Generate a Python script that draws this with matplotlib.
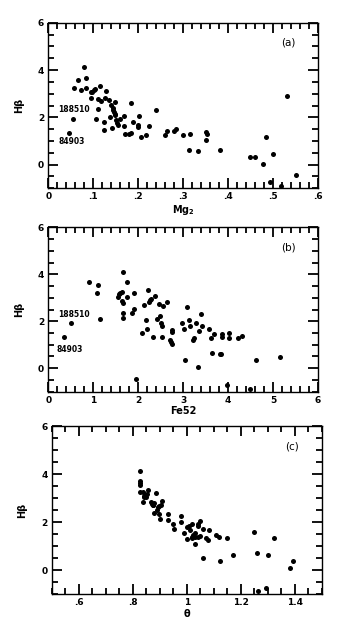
import matplotlib
matplotlib.use("Agg")
import matplotlib.pyplot as plt
from matplotlib.ticker import MultipleLocator, FixedLocator

# panel (a): Hbeta vs Mg2
mg2 = [0.079, 0.067, 0.084, 0.058, 0.073, 0.083, 0.098, 0.101, 0.103, 0.095, 0.096,
       0.114, 0.128, 0.110, 0.117, 0.127, 0.136, 0.148, 0.139, 0.144, 0.145, 0.147,
       0.148, 0.111, 0.138, 0.149, 0.150, 0.152, 0.159, 0.154, 0.106, 0.123, 0.125,
       0.142, 0.169, 0.184, 0.169, 0.170, 0.180, 0.185, 0.189, 0.199, 0.199, 0.202,
       0.207, 0.217, 0.223, 0.239, 0.259, 0.263, 0.279, 0.284, 0.300, 0.315, 0.313,
       0.332, 0.351, 0.352, 0.350, 0.381, 0.449, 0.460, 0.477, 0.484, 0.501, 0.493,
       0.530, 0.517, 0.550, 0.054, 0.047]
hb_a = [4.11, 3.57, 3.66, 3.23, 3.17, 3.24, 3.06, 3.17, 3.20, 2.83, 3.05,
        3.31, 3.10, 2.77, 2.69, 2.83, 2.74, 2.63, 2.52, 2.38, 2.29, 2.21,
        2.13, 2.36, 2.03, 2.08, 1.90, 1.78, 1.93, 1.68, 1.94, 1.82, 1.48,
        1.55, 2.07, 2.60, 1.62, 1.30, 1.30, 1.33, 1.79, 1.68, 1.58, 2.04,
        1.17, 1.24, 1.62, 2.32, 1.26, 1.41, 1.41, 1.50, 1.26, 1.29, 0.64,
        0.57, 1.38, 1.30, 1.05, 0.60, 0.32, 0.34, 0.04, 1.17, 0.45, -0.74,
        2.92, -0.90, -0.45, 1.92, 1.33]

# panel (b): Hbeta vs Fe52
fe52 = [0.91, 1.08, 1.11, 1.16, 0.50, 0.34, 1.66, 1.56, 1.58, 1.59, 1.64,
        1.65, 1.66, 1.67, 1.66, 1.76, 1.75, 1.91, 1.91, 1.87, 1.94, 2.08,
        2.14, 2.17, 2.20, 2.21, 2.24, 2.27, 2.28, 2.33, 2.38, 2.42, 2.47,
        2.49, 2.50, 2.54, 2.53, 2.56, 2.64, 2.70, 2.73, 2.76, 2.76, 2.76,
        2.97, 3.03, 3.04, 3.09, 3.13, 3.16, 3.21, 3.24, 3.29, 3.32, 3.35,
        3.39, 3.42, 3.58, 3.61, 3.65, 3.69, 3.81, 3.85, 3.87, 3.87, 3.97,
        4.01, 4.02, 4.21, 4.32, 4.48, 4.61, 5.15]
hb_b = [3.65, 3.22, 3.56, 2.08, 1.92, 1.35, 4.10, 3.05, 3.14, 3.19, 3.25,
        2.85, 2.79, 2.37, 2.12, 3.65, 3.05, 3.19, 2.52, 2.36, -0.45, 1.52,
        2.69, 2.06, 1.69, 3.32, 2.80, 2.91, 2.96, 1.32, 3.08, 2.08, 2.72,
        2.23, 1.94, 1.81, 1.31, 2.64, 2.82, 1.19, 1.13, 1.05, 1.63, 1.56,
        1.92, 1.67, 0.33, 2.61, 2.04, 1.81, 1.20, 1.27, 1.91, 0.04, 1.58,
        2.30, 1.80, 1.65, 1.28, 0.66, 1.44, 0.61, 0.59, 1.44, 1.31, -0.73,
        1.27, 1.51, 1.28, 1.39, -0.88, 0.33, 0.46]

# panel (c): Hbeta vs theta
theta = [0.827, 0.827, 0.827, 0.827, 0.827, 0.837, 0.845, 0.840, 0.848, 0.838,
         0.858, 0.866, 0.870, 0.877, 0.879, 0.874, 0.888, 0.880, 0.890, 0.894,
         0.898, 0.903, 0.909, 0.899, 0.900, 0.929, 0.930, 0.950, 0.952, 0.979,
         0.979, 0.990, 1.000, 1.009, 1.000, 1.012, 1.020, 1.020, 1.024, 1.021,
         1.029, 1.029, 1.031, 1.040, 1.041, 1.048, 1.043, 1.051, 1.060, 1.062,
         1.072, 1.078, 1.081, 1.109, 1.118, 1.122, 1.150, 1.171, 1.251, 1.263,
         1.262, 1.294, 1.302, 1.323, 1.383, 1.393, 0.842, 0.852]
hb_c = [4.13, 3.70, 3.63, 3.56, 3.25, 3.25, 3.14, 3.03, 3.03, 2.83,
        3.33, 2.82, 2.75, 2.72, 2.78, 2.70, 3.19, 2.38, 2.52, 2.62,
        2.68, 2.72, 2.86, 2.34, 2.13, 2.34, 2.09, 1.92, 1.69, 2.25,
        1.99, 1.53, 1.81, 1.82, 1.30, 1.67, 1.92, 1.39, 1.46, 1.33,
        1.54, 1.36, 1.08, 1.85, 1.92, 2.04, 1.36, 1.40, 1.69, 0.49,
        1.32, 1.23, 1.67, 1.47, 1.37, 0.36, 1.34, 0.62, 1.60, -0.88,
        0.69, -0.73, 0.64, 1.32, 0.08, 0.36, 3.10, 3.18]

W, H = 361, 638
fig = plt.figure(figsize=(W / 100, H / 100), dpi=100)
tick_font = dict(fontsize=6.5, fontweight="bold", family="DejaVu Sans")


def setup(ax, xlim, xmajor, xminor, xlabels, xlabel, tag):
    ax.set_xlim(*xlim)
    ax.set_ylim(-1, 6)
    ax.xaxis.set_major_locator(FixedLocator(xmajor))
    ax.xaxis.set_minor_locator(MultipleLocator(xminor))
    ax.set_xticklabels(xlabels, **tick_font)
    ax.yaxis.set_major_locator(FixedLocator([0, 2, 4, 6]))
    ax.yaxis.set_minor_locator(MultipleLocator(0.5))
    ax.set_yticklabels(["0", "2", "4", "6"], **tick_font)
    ax.tick_params(which="both", direction="in", bottom=True, top=True,
                   left=True, right=True, width=1.3, color="black", pad=3)
    ax.tick_params(which="major", length=7)
    ax.tick_params(which="minor", length=4)
    for s in ax.spines.values():
        s.set_linewidth(1.0)
    ax.set_xlabel(xlabel, fontsize=7, fontweight="bold", labelpad=1)
    ax.set_ylabel("Hβ", fontsize=7, fontweight="bold", labelpad=10)
    ax.text(0.89, 0.88, tag, transform=ax.transAxes, fontsize=7.5,
            ha="center", va="center")


ax1 = fig.add_axes([48.3 / W, 1 - 188.3 / H, 269.7 / W, 165.6 / H])
ax1.scatter(mg2, hb_a, s=13, color="black", lw=0)
setup(ax1, (0, 0.6), [0, 0.1, 0.2, 0.3, 0.4, 0.5, 0.6], 0.02,
      ["0", ".1", ".2", ".3", ".4", ".5", ".6"], r"$\mathbf{Mg_2}$", "(a)")
ax1.text(0.022, 2.31, "188510", fontsize=5.5, fontweight="bold", va="center")
ax1.text(0.022, 0.99, "84903", fontsize=5.5, fontweight="bold", va="center")

ax2 = fig.add_axes([48.3 / W, 1 - 391.7 / H, 269.7 / W, 164.4 / H])
ax2.scatter(fe52, hb_b, s=13, color="black", lw=0)
setup(ax2, (0, 6), [0, 1, 2, 3, 4, 5, 6], 0.2,
      ["0", "1", "2", "3", "4", "5", "6"], "Fe52", "(b)")
ax2.text(0.22, 2.30, "188510", fontsize=5.5, fontweight="bold", va="center")
ax2.text(0.19, 0.81, "84903", fontsize=5.5, fontweight="bold", va="center")

ax3 = fig.add_axes([51.7 / W, 1 - 594 / H, 270 / W, 168 / H])
ax3.scatter(theta, hb_c, s=13, color="black", lw=0)
setup(ax3, (0.5, 1.5), [0.6, 0.8, 1.0, 1.2, 1.4], 0.05,
      [".6", ".8", "1", "1.2", "1.4"], "θ", "(c)")

fig.savefig("out.png", dpi=100)
